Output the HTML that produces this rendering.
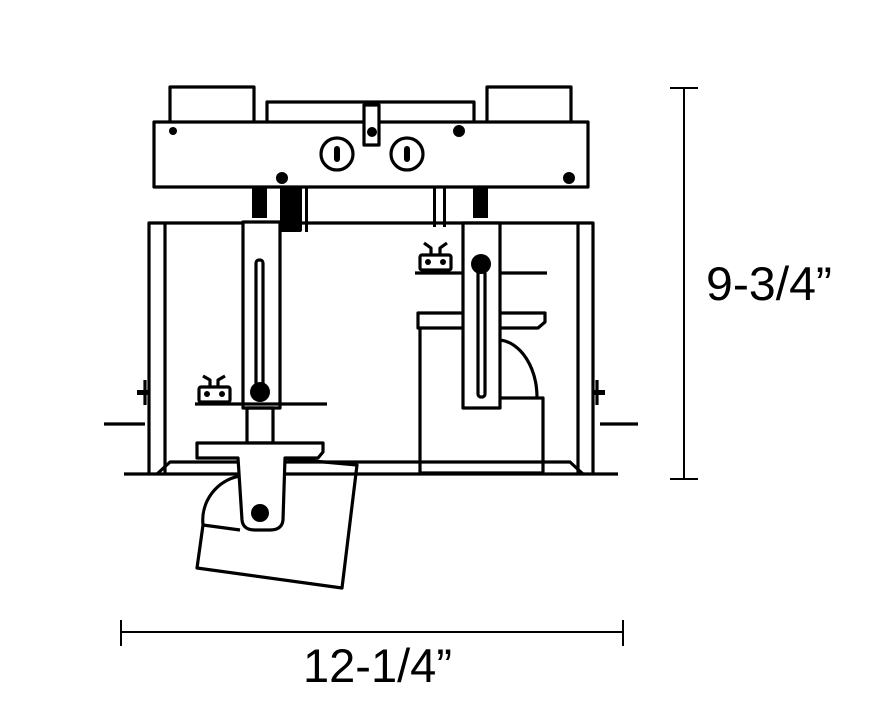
<!DOCTYPE html>
<html><head><meta charset="utf-8"><style>
html,body{margin:0;padding:0;background:#fff;}
svg{display:block;}
text{font-family:"Liberation Sans",sans-serif;fill:#000;}
</style></head><body>
<svg width="871" height="721" viewBox="0 0 871 721" xmlns="http://www.w3.org/2000/svg">
<g fill="none" stroke="#000" stroke-width="3.2" stroke-linejoin="round">
<rect x="170" y="87" width="84" height="37" fill="#fff"/>
<rect x="487" y="87" width="84" height="37" fill="#fff"/>
<rect x="267" y="102" width="207" height="22" fill="#fff"/>
<rect x="154" y="122" width="434" height="65" fill="#fff"/>
<rect x="364" y="105" width="15" height="40" fill="#fff"/>
<circle cx="337" cy="154" r="16"/>
<circle cx="407" cy="154" r="16"/>
<path d="M149 474 V223 H593 V474"/>
<path d="M165 474 V223 M578 474 V223"/>
<path d="M124 474 H618"/>
<path d="M104 424 H145 M600 424 H638"/>
<path d="M157 474 L170 462 H570 L583 474"/>
<path d="M145 380 V405 M597 380 V405"/>
<rect x="243" y="222" width="37" height="186" fill="#fff"/>
<rect x="256" y="260" width="7" height="130" rx="3"/>
<path d="M195 404 H327"/>
<rect x="247" y="408" width="26" height="35"/>
<path d="M240 476 A45 45 0 0 0 203 525"/>
<path d="M203 525 L197 568 L342 588 L357 465 L280 458"/>
<path d="M203 525 L240 530"/>
<path d="M197 443 H323 V452 L318 458 H285 L283 520 Q282 530 270 530 H255 Q243 530 242 520 L238 458 H197 Z" fill="#fff"/>
<path d="M415 273 H547"/>
<path d="M420 328 V473 H543 V398 H500"/>
<path d="M500 340 A40 58 0 0 1 537 398"/>
<path d="M418 313 H545 V322 L538 328 H418 Z" fill="#fff"/>
<rect x="463" y="223" width="37" height="185" fill="#fff"/>
<rect x="478" y="270" width="7" height="127" rx="3"/>
<rect x="199" y="387" width="31" height="15" rx="2"/>
<path d="M203 376 L210 380 V387 M225 376 L218 380 V387"/>
<rect x="420" y="255" width="31" height="15" rx="2"/>
<path d="M424 243 L431 248 V255 M447 243 L440 248 V255"/>
</g>
<g fill="#000">
<rect x="334" y="146" width="6" height="16" rx="3"/>
<rect x="404" y="146" width="6" height="16" rx="3"/>
<circle cx="260" cy="392" r="10"/>
<circle cx="481" cy="264" r="10"/>
<circle cx="260" cy="513" r="9"/>
<circle cx="173" cy="131" r="4"/>
<circle cx="372" cy="132" r="5"/>
<circle cx="459" cy="131" r="6"/>
<circle cx="282" cy="178" r="6"/>
<circle cx="569" cy="178" r="6"/>
<rect x="252" y="187" width="15" height="31"/>
<rect x="280" y="187" width="22" height="45" rx="2"/>
<rect x="473" y="187" width="15" height="31"/>
<rect x="433" y="187" width="3" height="40"/>
<rect x="443" y="187" width="3" height="40"/>
<rect x="305" y="187" width="3" height="45"/>
<circle cx="207" cy="394" r="3"/><circle cx="222" cy="394" r="3"/>
<circle cx="428" cy="262" r="3"/><circle cx="443" cy="262" r="3"/>
<rect x="137" y="390" width="12" height="5"/>
<rect x="593" y="390" width="12" height="5"/>
</g>
<g stroke="#000" stroke-width="2" fill="none">
<path d="M684 88 V479 M670 88 H698 M670 479 H698"/>
<path d="M121 632 H623 M121 620 V646 M623 620 V646"/>
</g>
<text x="706" y="300" font-size="47" textLength="126" lengthAdjust="spacingAndGlyphs">9-3/4”</text>
<text x="303" y="682" font-size="47" textLength="149" lengthAdjust="spacingAndGlyphs">12-1/4”</text>
</svg>
</body></html>
